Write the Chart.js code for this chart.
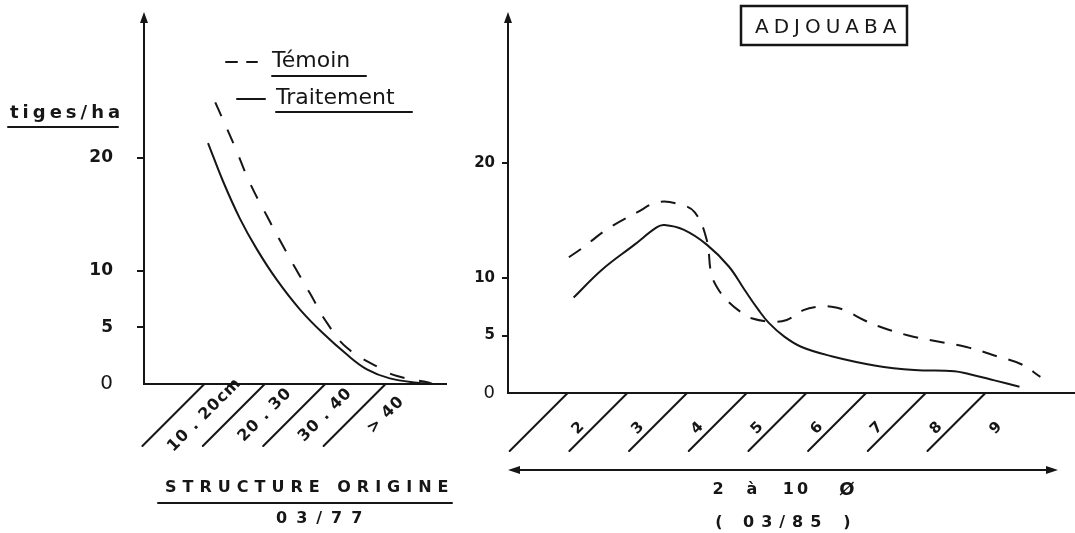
<!DOCTYPE html>
<html lang="fr">
<head>
<meta charset="utf-8">
<title>Adjouaba – structure des peuplements</title>
<script src="https://cdn.jsdelivr.net/npm/chart.js@4.4.1/dist/chart.umd.min.js"></script>
<style>
  html, body { margin: 0; padding: 0; background: #fff; }
  #wrap { position: relative; width: 1075px; height: 533px; overflow: hidden; }
  #wrap canvas { position: absolute; top: 0; }
  #structure { left: 0; }
  #adjouaba { left: 460px; }
</style>
</head>
<body>
<div id="wrap">
  <canvas id="structure" width="460" height="533"></canvas>
  <canvas id="adjouaba" width="615" height="533"></canvas>
</div>
<script>
// left panel: original structure (03/77), x = diameter in cm
const structClasses = ['10 . 20cm', '20 . 30', '30 . 40', '> 40'];
const structBounds = [10, 20, 30, 40];
const structTemoin = [
  { x: 11.8, y: 24.9 }, { x: 15.1, y: 20.9 }, { x: 17.5, y: 17.8 }, { x: 20.4, y: 14.8 },
  { x: 22.5, y: 12.7 }, { x: 25.0, y: 10.3 }, { x: 27.5, y: 8.0 }, { x: 30.3, y: 5.4 },
  { x: 33.6, y: 3.2 }, { x: 38.7, y: 1.5 }, { x: 41.9, y: 0.7 }, { x: 47.4, y: 0.1 }
];
const structTraitement = [
  { x: 10.6, y: 21.3 }, { x: 13.1, y: 17.9 }, { x: 15.9, y: 14.6 }, { x: 18.7, y: 11.9 },
  { x: 22.0, y: 9.2 }, { x: 25.8, y: 6.6 }, { x: 29.6, y: 4.5 }, { x: 33.6, y: 2.6 },
  { x: 36.9, y: 1.3 }, { x: 40.7, y: 0.5 }, { x: 45.2, y: 0.12 }, { x: 47.7, y: 0.05 }
];

// right panel: Adjouaba (03/85), x = diameter class 2 to 10
const adjClasses = ['2', '3', '4', '5', '6', '7', '8', '9'];
const adjBounds = [2, 3, 4, 5, 6, 7, 8, 9];
const adjTemoin = [
  { x: 2.02, y: 11.8 }, { x: 2.27, y: 12.7 }, { x: 2.65, y: 14.2 }, { x: 3.16, y: 15.7 },
  { x: 3.52, y: 16.6 }, { x: 3.88, y: 16.4 }, { x: 4.13, y: 15.7 }, { x: 4.33, y: 13.3 },
  { x: 4.41, y: 10.3 }, { x: 4.55, y: 8.8 }, { x: 4.70, y: 7.9 }, { x: 4.91, y: 7.0 },
  { x: 5.08, y: 6.5 }, { x: 5.42, y: 6.2 }, { x: 5.67, y: 6.35 }, { x: 5.95, y: 7.2 },
  { x: 6.20, y: 7.5 }, { x: 6.42, y: 7.5 }, { x: 6.64, y: 7.2 }, { x: 6.96, y: 6.35 },
  { x: 7.21, y: 5.8 }, { x: 7.71, y: 5.0 }, { x: 8.18, y: 4.5 }, { x: 8.68, y: 4.0 },
  { x: 9.19, y: 3.2 }, { x: 9.60, y: 2.5 }, { x: 9.92, y: 1.4 }
];
const adjTraitement = [
  { x: 2.10, y: 8.3 }, { x: 2.57, y: 10.7 }, { x: 3.12, y: 12.9 }, { x: 3.49, y: 14.4 },
  { x: 3.62, y: 14.6 }, { x: 3.94, y: 14.2 }, { x: 4.33, y: 12.9 }, { x: 4.70, y: 11.0 },
  { x: 4.96, y: 9.0 }, { x: 5.20, y: 7.2 }, { x: 5.37, y: 6.1 }, { x: 5.63, y: 4.9 },
  { x: 5.92, y: 4.0 }, { x: 6.42, y: 3.2 }, { x: 7.14, y: 2.4 }, { x: 7.81, y: 2.0 },
  { x: 8.48, y: 1.9 }, { x: 8.72, y: 1.65 }, { x: 9.15, y: 1.1 }, { x: 9.57, y: 0.55 }
];

const yTicks = [0, 5, 10, 20];

const INK = '#161616';
const FONT = '"DejaVu Sans", sans-serif';

function text(ctx, s, x, y, size, opt = {}) {
  ctx.font = `${opt.weight || 'normal'} ${size}px ${FONT}`;
  ctx.letterSpacing = (opt.spacing || 0) + 'px';
  ctx.textAlign = opt.align || 'left';
  ctx.textBaseline = 'middle';
  ctx.fillText(s, x, y);
  ctx.letterSpacing = '0px';
}

function line(ctx, x1, y1, x2, y2) {
  ctx.beginPath();
  ctx.moveTo(x1, y1);
  ctx.lineTo(x2, y2);
  ctx.stroke();
}

function arrowHead(ctx, x, y, dir) {
  // dir: 'up', 'left', 'right'
  ctx.beginPath();
  if (dir === 'up') { ctx.moveTo(x, y); ctx.lineTo(x - 4, y + 11); ctx.lineTo(x + 4, y + 11); }
  if (dir === 'left') { ctx.moveTo(x, y); ctx.lineTo(x + 12, y - 4); ctx.lineTo(x + 12, y + 4); }
  if (dir === 'right') { ctx.moveTo(x, y); ctx.lineTo(x - 12, y - 4); ctx.lineTo(x - 12, y + 4); }
  ctx.closePath();
  ctx.fill();
}

// axis arrow, slanted class separators under the baseline and their labels
const sketch = {
  id: 'sketch',
  afterDraw(chart, args, o) {
    const { ctx, chartArea: a, scales: { x } } = chart;
    ctx.save();
    ctx.strokeStyle = INK;
    ctx.fillStyle = INK;
    ctx.lineWidth = 2;
    ctx.lineCap = 'round';

    line(ctx, a.left, a.top, a.left, o.arrowTip + 6);
    arrowHead(ctx, a.left, o.arrowTip, 'up');

    o.bounds.forEach(v => {
      const px = x.getPixelForValue(v);
      line(ctx, px, a.bottom, px - o.drop, a.bottom + o.drop);
    });

    o.labels.forEach((s, i) => {
      const b = o.bounds;
      const step = b[1] - b[0];
      const mid = i < b.length - 1 ? (b[i] + b[i + 1]) / 2 : b[i] + step / 2;
      const px = x.getPixelForValue(mid) + o.labelOffset[0];
      const py = a.bottom + o.labelOffset[1];
      ctx.save();
      ctx.translate(px, py);
      ctx.rotate(-Math.PI / 4);
      text(ctx, s, 0, 0, o.labelSize, { align: 'center', spacing: 1, weight: 'bold' });
      ctx.restore();
    });

    if (o.extra) o.extra(ctx, chart);
    ctx.restore();
  }
};

function yScale(width, pad, tickLen, size) {
  return {
    type: 'linear',
    min: 0,
    max: 32,
    afterBuildTicks: s => { s.ticks = yTicks.map(v => ({ value: v })); },
    afterFit: s => {
      // fixed gutter; labels never reach the top so no extra padding is needed
      s.width = width;
      s.paddingTop = 0;
      s.paddingBottom = 0;
    },
    border: { display: true, color: INK, width: 2 },
    grid: {
      drawOnChartArea: false,
      drawTicks: true,
      tickLength: tickLen,
      lineWidth: 2,
      color: INK,
      tickColor: c => (c.tick && c.tick.value === 0 ? 'rgba(0,0,0,0)' : INK)
    },
    ticks: {
      color: INK,
      padding: pad,
      font: c => (c.tick && c.tick.value === 0
        ? { family: FONT, size: size + 3, weight: 'normal' }
        : { family: FONT, size: size, weight: 'bold' })
    }
  };
}

function xScale(min, max, height) {
  return {
    type: 'linear',
    min: min,
    max: max,
    afterFit: s => { s.height = height; },
    border: { display: true, color: INK, width: 2 },
    grid: { display: false },
    ticks: { display: false }
  };
}

function curves(temoin, traitement, dash) {
  return [
    {
      label: 'Témoin',
      data: temoin,
      borderColor: INK,
      borderWidth: 2,
      borderDash: dash,
      pointRadius: 0,
      tension: 0.4,
      clip: 6
    },
    {
      label: 'Traitement',
      data: traitement,
      borderColor: INK,
      borderWidth: 2,
      pointRadius: 0,
      tension: 0.4,
      clip: 6
    }
  ];
}

const common = {
  responsive: false,
  devicePixelRatio: 1,
  animation: false,
  events: [],
  plugins: { legend: { display: false }, tooltip: { enabled: false } }
};

new Chart(document.getElementById('structure'), {
  type: 'line',
  data: { datasets: curves(structTemoin, structTraitement, [15, 15]) },
  plugins: [sketch],
  options: {
    ...common,
    layout: { padding: { left: 0, top: 22, right: 14, bottom: 0 } },
    scales: {
      x: xScale(0, 50, 533 - 384),
      y: yScale(144, 24, 7, 17)
    },
    plugins: {
      ...common.plugins,
      sketch: {
        arrowTip: 12,
        bounds: structBounds,
        labels: structClasses,
        drop: 62,
        labelOffset: [-30, 31],
        labelSize: 16,
        extra(ctx) {
          // legend
          line(ctx, 226, 62, 237, 62);
          line(ctx, 247, 62, 257, 62);
          text(ctx, 'Témoin', 272, 61, 22);
          line(ctx, 272, 76, 366, 76);
          line(ctx, 237, 99, 265, 99);
          text(ctx, 'Traitement', 276, 98, 22);
          line(ctx, 276, 112, 412, 112);
          // y axis unit
          text(ctx, 'tiges/ha', 10, 113, 18, { spacing: 4, weight: 'bold' });
          line(ctx, 8, 127, 118, 127);
          // x axis title
          text(ctx, 'STRUCTURE ORIGINE', 165, 488, 16, { spacing: 6, weight: 'bold' });
          line(ctx, 158, 503, 452, 503);
          text(ctx, '03/77', 276, 519, 16, { spacing: 9, weight: 'bold' });
        }
      }
    }
  }
});

new Chart(document.getElementById('adjouaba'), {
  type: 'line',
  data: { datasets: curves(adjTemoin, adjTraitement, [15, 12]) },
  plugins: [sketch],
  options: {
    ...common,
    layout: { padding: { left: 0, top: 25, right: 0, bottom: 0 } },
    scales: {
      x: xScale(1, 10.5, 533 - 393),
      y: yScale(48, 7, 6, 15)
    },
    plugins: {
      ...common.plugins,
      sketch: {
        arrowTip: 12,
        bounds: adjBounds,
        labels: adjClasses,
        drop: 58,
        labelOffset: [-19, 35],
        labelSize: 15,
        extra(ctx) {
          // site name
          ctx.lineWidth = 2.5;
          ctx.strokeRect(281, 6, 166, 39);
          ctx.lineWidth = 2;
          text(ctx, 'ADJOUABA', 295, 28, 20, { spacing: 5 });
          // diameter range arrow
          line(ctx, 52, 470, 594, 470);
          arrowHead(ctx, 48, 470, 'left');
          arrowHead(ctx, 598, 470, 'right');
          text(ctx, '2', 258, 490, 16, { align: 'center', weight: 'bold' });
          text(ctx, 'à', 292, 490, 16, { align: 'center', weight: 'bold' });
          text(ctx, '10', 337, 490, 16, { align: 'center', spacing: 3, weight: 'bold' });
          text(ctx, 'Ø', 387, 490, 18, { align: 'center', weight: 'bold' });
          text(ctx, '(', 259, 523, 16, { align: 'center', weight: 'bold' });
          text(ctx, '03/85', 283, 523, 16, { spacing: 7, weight: 'bold' });
          text(ctx, ')', 387, 523, 16, { align: 'center', weight: 'bold' });
        }
      }
    }
  }
});
</script>
</body>
</html>
